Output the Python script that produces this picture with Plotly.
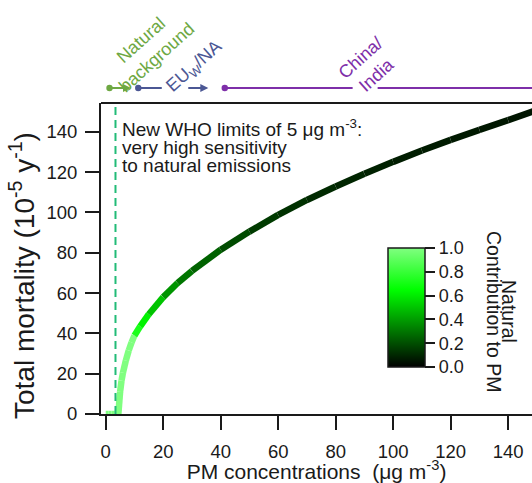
import plotly.graph_objects as go
from plotly.colors import sample_colorscale

# ---------------- data ----------------
pm = [0, 1, 2, 3, 4, 4.4, 5, 5.5, 6, 7, 8, 9, 10, 12, 15, 20, 25, 30, 40, 50,
      60, 70, 80, 90, 100, 110, 120, 130, 140, 150]
mortality = [0, 0, 0, 0, 0, 0, 11, 16.5, 20.5, 26.5, 31.5, 35.5, 39, 43.5, 49.5,
             58, 65, 71, 81.5, 90.5, 98.8, 106.2, 112.9, 119.2, 125.1, 130.7,
             136.0, 141.0, 145.8, 150.8]
natural_fraction = [1, 1, 1, 1, 1, 1, 1, 1, 1, 1, 1, 1, 0.72, 0.62, 0.5, 0.38,
                    0.3, 0.25, 0.19, 0.15, 0.125, 0.107, 0.094, 0.083, 0.075,
                    0.068, 0.063, 0.058, 0.054, 0.05]

who_line_x = 3.4
x_ticks = [0, 20, 40, 60, 80, 100, 120, 140]
y_ticks = [0, 20, 40, 60, 80, 100, 120, 140]
cb_ticks = [0.0, 0.2, 0.4, 0.6, 0.8, 1.0]

region_names = ["Natural<br>background", "EU<sub>W</sub>/NA", "China/<br>India"]
region_start = [0.8, 10.8, 40.9]
region_end = [8.8, 35.7, 150]
region_colors = ["#6ea843", "#4b5794", "#7e2fa9"]

# ---------------- figure ----------------
colorscale = [[0, "#000000"], [0.65, "#00ff00"], [1, "#80ff80"]]
FONT = "Liberation Sans, Arial, sans-serif"
INK = "#1a1a1a"

# plot-area geometry in pixels (for placing annotations)
L, R, T, B = 101, 532, 103, 414
W_, H_ = R - L, B - T


def px_x(px):
    return (px - L) / W_


def px_y(py):
    return (B - py) / H_


fig = go.Figure()

seg_colors = sample_colorscale(colorscale, natural_fraction)
for i in range(len(pm) - 1):
    fig.add_trace(go.Scatter(
        x=[pm[i], pm[i + 1]], y=[mortality[i], mortality[i + 1]],
        mode="lines", line=dict(color=seg_colors[i], width=6.5),
        showlegend=False, hoverinfo="skip"))

# colorbar holder
fig.add_trace(go.Scatter(
    x=[None], y=[None], mode="markers", showlegend=False, hoverinfo="skip",
    marker=dict(color=[0, 1], cmin=0, cmax=1, colorscale=colorscale,
                showscale=True,
                colorbar=dict(x=px_x(388), xanchor="left", y=px_y(307.5),
                              yanchor="middle",
                              thickness=37, len=119, lenmode="pixels",
                              xpad=0, ypad=0, outlinewidth=1.5, outlinecolor=INK,
                              ticks="outside", ticklen=10, tickwidth=2, tickcolor=INK,
                              tickvals=cb_ticks, tickformat=".1f",
                              tickfont=dict(size=18, color=INK, family=FONT)))))

shapes = [
    dict(type="line", xref="x", yref="paper", x0=who_line_x, x1=who_line_x,
         y0=0, y1=1, line=dict(color="#22bb77", width=2, dash="8px,5px")),
    dict(type="line", xref="paper", yref="paper", x0=0, x1=1, y0=1, y1=1,
         line=dict(color=INK, width=2)),
]

annotations = []
yline = px_y(88)

# natural background: dot + arrow
annotations.append(dict(x=region_end[0], y=yline, xref="x", yref="paper",
                        ax=region_start[0], ay=0, axref="x", ayref="pixel",
                        text="", showarrow=True, arrowside="end+start",
                        arrowhead=2, startarrowhead=6, arrowsize=0.8,
                        startarrowsize=0.8, arrowwidth=2,
                        arrowcolor=region_colors[0]))
# EU/NA: two segments with gap for label
annotations.append(dict(x=19.5, y=yline, xref="x", yref="paper",
                        ax=region_start[1], ay=0, axref="x", ayref="pixel",
                        text="", showarrow=True, arrowside="start",
                        startarrowhead=6, startarrowsize=0.8, arrowwidth=2,
                        arrowcolor=region_colors[1]))
annotations.append(dict(x=region_end[1], y=yline, xref="x", yref="paper",
                        ax=28.2, ay=0, axref="x", ayref="pixel",
                        text="", showarrow=True, arrowside="end",
                        arrowhead=2, arrowsize=0.8, arrowwidth=2,
                        arrowcolor=region_colors[1]))
# China/India
annotations.append(dict(x=85.9, y=yline, xref="x", yref="paper",
                        ax=region_start[2], ay=0, axref="x", ayref="pixel",
                        text="", showarrow=True, arrowside="start",
                        startarrowhead=6, startarrowsize=0.8, arrowwidth=2,
                        arrowcolor=region_colors[2]))
shapes.append(dict(type="line", xref="x", yref="paper", x0=94.6, x1=region_end[2],
                   y0=yline, y1=yline, line=dict(color=region_colors[2], width=2)))

label_pos = [(149, 49), (194, 67), (368, 66)]
for name, col, (lx, ly) in zip(region_names, region_colors, label_pos):
    annotations.append(dict(x=px_x(lx), y=px_y(ly), xref="paper", yref="paper",
                            text=name, showarrow=False, textangle=-42,
                            xanchor="center", yanchor="middle",
                            font=dict(size=18, color=col, family=FONT)))

who_lines = ["New WHO limits of 5 μg m<sup>-3</sup>:", "very high sensitivity",
             "to natural emissions"]
for txt, py in zip(who_lines, [128, 147, 165]):
    annotations.append(dict(x=px_x(120), y=px_y(py), xref="paper", yref="paper",
                            xanchor="left", yanchor="middle", text=txt,
                            showarrow=False,
                            font=dict(size=19, color=INK, family=FONT)))

for txt, px in [("Natural", 509.5), ("Contribution to PM", 494.5)]:
    annotations.append(dict(x=px_x(px), y=px_y(311.5), xref="paper",
                            yref="paper", text=txt, showarrow=False, textangle=90,
                            xanchor="center", yanchor="middle",
                            font=dict(size=19.5, color=INK, family=FONT)))

# y-axis title
annotations.append(dict(x=px_x(22), y=px_y(276), xref="paper", yref="paper",
                        text="Total mortality (10<sup>-5</sup> y<sup>-1</sup>)",
                        showarrow=False, textangle=-90, xanchor="center",
                        yanchor="middle",
                        font=dict(size=28, color=INK, family=FONT)))

axis_common = dict(showgrid=False, zeroline=False, showline=True, linewidth=2,
                   linecolor=INK, ticks="outside", ticklen=14, tickwidth=2,
                   tickcolor=INK, automargin=False,
                   tickfont=dict(size=18.5, color=INK, family=FONT))

fig.update_layout(
    width=532, height=483, margin=dict(l=L, r=532 - R, t=T, b=483 - B, autoexpand=False),
    paper_bgcolor="white", plot_bgcolor="white",
    font=dict(family=FONT, color=INK),
    xaxis=dict(range=[-1.64, 148.3], tickvals=x_ticks, ticklabelstandoff=6,
               title=dict(text="PM concentrations  (μg m<sup>-3</sup>)",
                          font=dict(size=21, color=INK, family=FONT), standoff=0),
               **axis_common),
    yaxis=dict(range=[0, 154.3], tickvals=y_ticks, ticklabelstandoff=4,
               **axis_common),
    shapes=shapes, annotations=annotations, showlegend=False,
)

fig.write_html("out.html", config={"displayModeBar": False},
               post_script="document.body.style.margin='0';document.body.style.overflow='hidden';")
